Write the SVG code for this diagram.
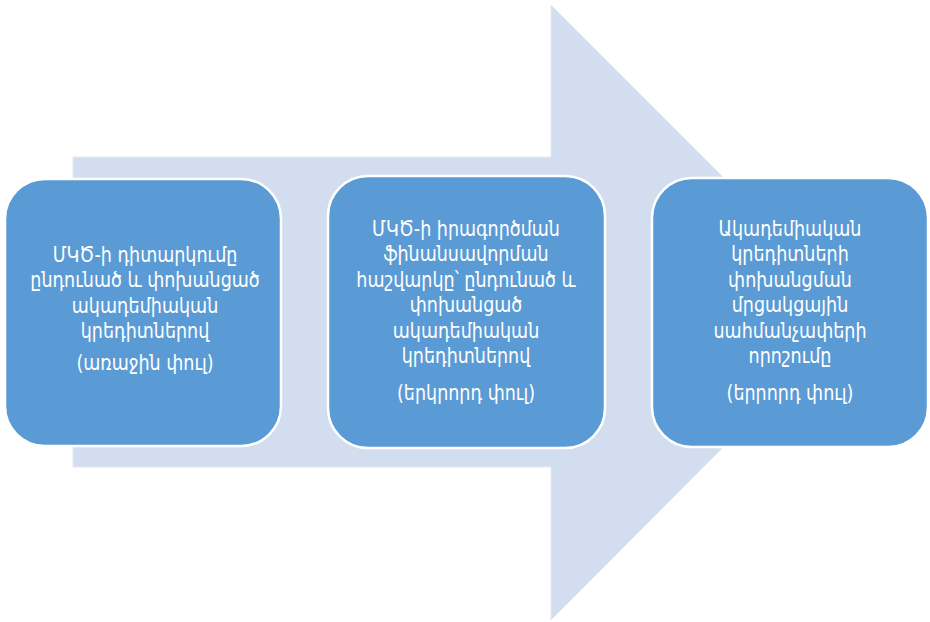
<svg xmlns="http://www.w3.org/2000/svg" width="930" height="622" viewBox="0 0 930 622">
<style>
.box{fill:#5B9BD5;stroke:#ffffff;stroke-width:2.5}
.t{font-family:"DejaVu Sans Condensed","DejaVu Sans",sans-serif;font-size:20.5px;fill:#ffffff;text-anchor:middle}
</style>
<rect width="930" height="622" fill="#ffffff"/>
<g id="arrow">
<polygon points="73,157 551,157 551,5 858,312 551,620 551,467 73,467" fill="#D2DEEF" stroke="#e6e9ef" stroke-width="1"/>
</g>
<g id="connectors"></g>
<g id="node1">
<rect class="box" x="5" y="179" width="276" height="267" rx="40"/>
<g transform="translate(145 0) scale(0.95 1)">
<text class="t" x="0" y="262">ՄԿԾ-ի դիտարկումը</text>
<text class="t" x="0" y="287.5">ընդունած և փոխանցած</text>
<text class="t" x="0" y="313">ակադեմիական</text>
<text class="t" x="0" y="338.5">կրեդիտներով</text>
<text class="t" x="0" y="370">(առաջին փուլ)</text>
</g>
</g>
<g id="node2">
<rect class="box" x="328" y="176" width="277" height="272" rx="40"/>
<g transform="translate(466 0) scale(0.95 1)">
<text class="t" x="0" y="236">ՄԿԾ-ի իրագործման</text>
<text class="t" x="0" y="261.5">ֆինանսավորման</text>
<text class="t" x="0" y="287">հաշվարկը՝ ընդունած և</text>
<text class="t" x="0" y="312.5">փոխանցած</text>
<text class="t" x="0" y="338">ակադեմիական</text>
<text class="t" x="0" y="363.5">կրեդիտներով</text>
<text class="t" x="0" y="400">(երկրորդ փուլ)</text>
</g>
</g>
<g id="node3">
<rect class="box" x="652" y="178" width="276" height="269" rx="40"/>
<g transform="translate(790 0) scale(0.95 1)">
<text class="t" x="0" y="236">Ակադեմիական</text>
<text class="t" x="0" y="261.5">կրեդիտների</text>
<text class="t" x="0" y="287">փոխանցման</text>
<text class="t" x="0" y="312.5">մրցակցային</text>
<text class="t" x="0" y="338">սահմանչափերի</text>
<text class="t" x="0" y="363.5">որոշումը</text>
<text class="t" x="0" y="400">(երրորդ փուլ)</text>
</g>
</g>
</svg>
